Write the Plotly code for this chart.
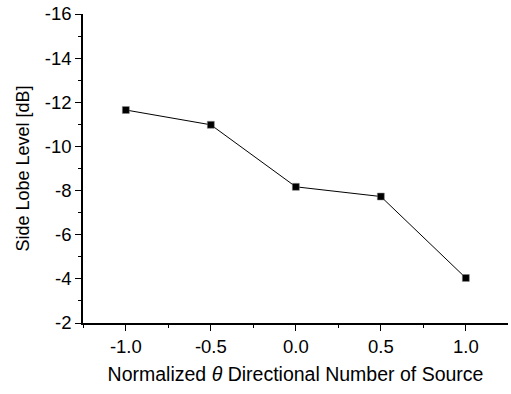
import plotly.graph_objects as go

# Normalized theta directional number of source vs. side lobe level
theta_norm = [-1.0, -0.5, 0.0, 0.5, 1.0]
side_lobe_db = [-11.65, -10.98, -8.17, -7.73, -4.04]

x_tick_vals = [-1.0, -0.5, 0.0, 0.5, 1.0]
x_tick_text = ["-1.0", "-0.5", "0.0", "0.5", "1.0"]
y_tick_vals = [-16, -14, -12, -10, -8, -6, -4, -2]
y_tick_text = ["-16", "-14", "-12", "-10", "-8", "-6", "-4", "-2"]

font_family = "Liberation Sans"

fig = go.Figure(
    go.Scatter(
        x=theta_norm,
        y=side_lobe_db,
        mode="lines+markers",
        line=dict(color="black", width=1),
        marker=dict(symbol="square", size=7, color="black",
                    line=dict(color="#888", width=0.5)),
        showlegend=False,
    )
)

fig.update_layout(
    width=511,
    height=394,
    margin=dict(l=83, r=3, t=12, b=71),
    paper_bgcolor="white",
    plot_bgcolor="white",
    font=dict(family=font_family, size=18, color="black"),
)

fig.update_xaxes(
    range=[-1.252, 1.248],
    tickvals=x_tick_vals,
    ticktext=x_tick_text,
    ticks="outside",
    ticklen=6,
    tickwidth=1,
    tickcolor="black",
    minor=dict(dtick=0.25, tick0=0, ticks="outside", ticklen=3, tickcolor="black"),
    showline=True,
    linecolor="black",
    linewidth=1.5,
    showgrid=False,
    zeroline=False,
    tickfont=dict(size=18.5),
    title=dict(text="Normalized <i>θ</i> Directional Number of Source",
               font=dict(size=19.5), standoff=11),
)

fig.update_yaxes(
    range=[-2, -16],
    tickvals=y_tick_vals,
    ticktext=y_tick_text,
    ticks="outside",
    ticklen=6,
    tickwidth=1,
    tickcolor="black",
    minor=dict(dtick=1, tick0=0, ticks="outside", ticklen=3, tickcolor="black"),
    showline=True,
    linecolor="black",
    linewidth=1.5,
    showgrid=False,
    zeroline=False,
    tickfont=dict(size=18.5),
    title=dict(text="Side Lobe Level [dB]", font=dict(size=18), standoff=10),
)

fig.write_html("out.html")
